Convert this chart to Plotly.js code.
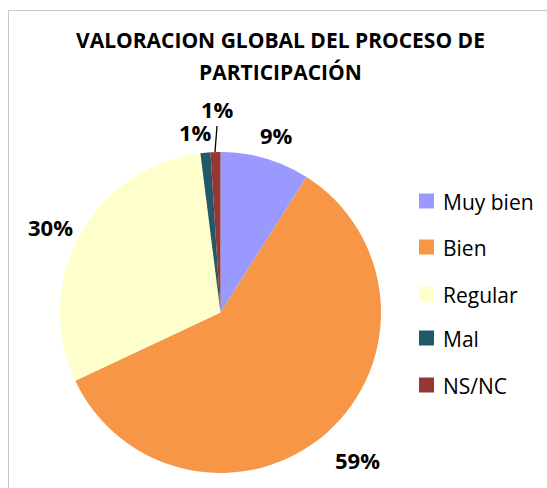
<!DOCTYPE html>
<html>
<head>
<meta charset="utf-8">
<script src="https://cdn.plot.ly/plotly-3.0.1.min.js"></script>
<style>
html,body{margin:0;padding:0;background:#fff;}
#chart{width:547px;height:488px;}
</style>
</head>
<body>
<div id="chart"></div>
<script>
const categories = ["Muy bien", "Bien", "Regular", "Mal", "NS/NC"];
const values = [9, 59, 30, 1, 1];
const colors = ["#9999FF", "#F79646", "#FFFFCC", "#215967", "#953735"];
const titleLines = ["VALORACION GLOBAL DEL PROCESO DE", "PARTICIPACIÓN"];

const W = 547, H = 488;
const px = x => x / W;
const py = y => 1 - y / H;
const FONT = "Open Sans, Noto Sans, sans-serif";

const total = values.reduce((a, b) => a + b, 0);
const pct = values.map(v => Math.round(v / total * 100) + "%");

// label positions (pixel centers) for each slice
const labelPos = [[277, 135], [357, 460], [50, 227], [195, 132], [217, 109]];

const annotations = [];
titleLines.forEach((t, i) => {
  annotations.push({
    xref: "paper", yref: "paper", x: px(280), y: py(40 + i * 32),
    xanchor: "center", yanchor: "middle", showarrow: false,
    text: "<b>" + t + "</b>", font: {family: FONT, size: 21, color: "#000"}
  });
});
pct.forEach((t, i) => {
  annotations.push({
    xref: "paper", yref: "paper", x: px(labelPos[i][0]), y: py(labelPos[i][1]),
    xanchor: "center", yanchor: "middle", showarrow: false,
    text: "<b>" + t + "</b>", font: {family: FONT, size: 22, color: "#000"}
  });
});

const legendY = [201, 247, 294, 338, 385];
const shapes = [
  {type: "path", xref: "paper", yref: "paper",
   path: "M " + px(8.5) + "," + py(488) + " L " + px(8.5) + "," + py(10.5) + " L " + px(547) + "," + py(10.5),
   line: {color: "#c8c8c8", width: 1}},
  {type: "line", xref: "paper", yref: "paper",
   x0: px(217), y0: py(126), x1: px(215), y1: py(152),
   line: {color: "#000", width: 1.3}}
];
categories.forEach((c, i) => {
  shapes.push({type: "rect", xref: "paper", yref: "paper",
    x0: px(419), x1: px(434), y0: py(legendY[i] - 7.5), y1: py(legendY[i] + 7.5),
    fillcolor: colors[i], line: {width: 0}});
  annotations.push({
    xref: "paper", yref: "paper", x: px(441), y: py(legendY[i] + 1),
    xanchor: "left", yanchor: "middle", showarrow: false,
    text: c, font: {family: FONT, size: 21, color: "#000"}
  });
});

const data = [{
  type: "pie",
  labels: categories,
  values: values,
  sort: false,
  direction: "clockwise",
  rotation: 0,
  marker: {colors: colors, line: {width: 0}},
  textinfo: "none",
  hoverinfo: "label+percent",
  showlegend: false,
  domain: {x: [px(60), px(381)], y: [py(473), py(152)]}
}];

const layout = {
  width: W, height: H,
  margin: {l: 0, r: 0, t: 0, b: 0},
  paper_bgcolor: "#fff",
  showlegend: false,
  annotations: annotations,
  shapes: shapes
};

Plotly.newPlot("chart", data, layout, {displayModeBar: false, staticPlot: true});
</script>
</body>
</html>
